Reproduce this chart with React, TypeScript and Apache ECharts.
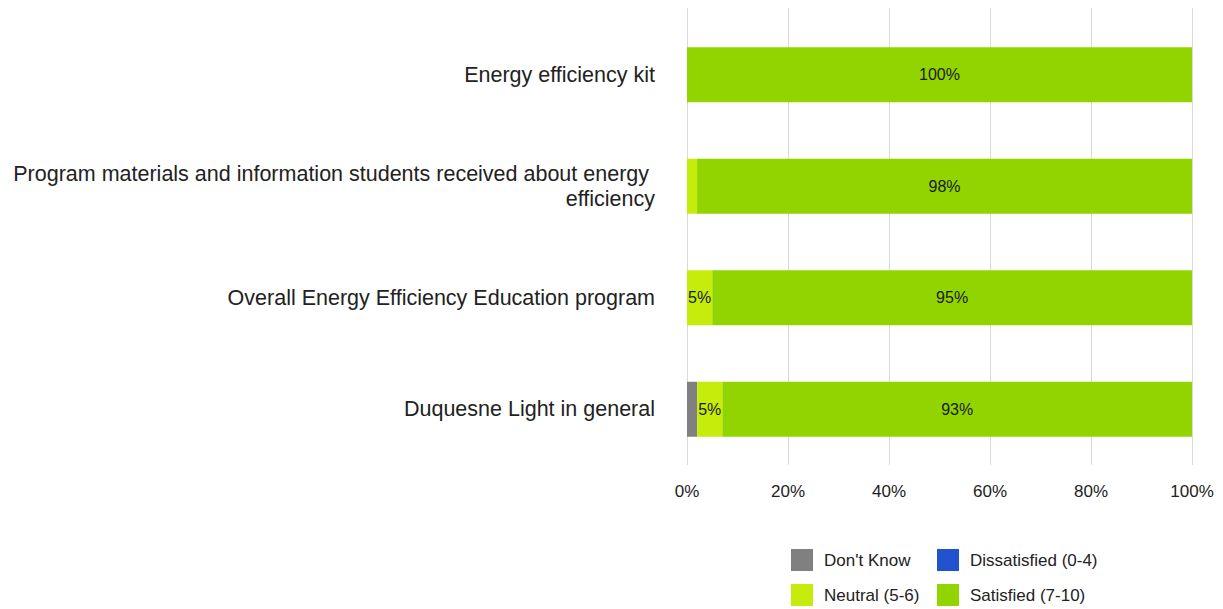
import React, { useEffect, useRef } from "react";
import * as echarts from "echarts";

const categories = [
  "Energy efficiency kit",
  "Program materials and information students received about energy efficiency",
  "Overall Energy Efficiency Education program",
  "Duquesne Light in general",
];
const seriesNames = ["Don't Know", "Dissatisfied (0-4)", "Neutral (5-6)", "Satisfied (7-10)"];
const dontKnow = [0, 0, 0, 2];
const dissatisfied = [0, 0, 0, 0];
const neutral = [0, 2, 5, 5];
const satisfied = [100, 98, 95, 93];
const colors = ["#808080", "#2352d0", "#c6ec0c", "#92d400"];
const xTicks = [0, 20, 40, 60, 80, 100];

const FONT = "'Liberation Sans', Arial, sans-serif";

export default function App() {
  const ref = useRef<HTMLDivElement>(null);
  useEffect(() => {
    const chart = echarts.init(ref.current!, null, { renderer: "svg" });
    const values = [dontKnow, dissatisfied, neutral, satisfied];
    const legendPos = [
      { left: 791, top: 549 },
      { left: 937, top: 549 },
      { left: 791, top: 584 },
      { left: 937, top: 584 },
    ];
    chart.setOption({
      animation: false,
      textStyle: { fontFamily: FONT },
      grid: [
        { left: 687, right: 31, top: 19, bottom: 144, outerBoundsMode: "none", containLabel: false },
        { left: 687, right: 31, top: 8, height: 11, outerBoundsMode: "none", containLabel: false },
      ],
      xAxis: [
        {
          type: "value",
          gridIndex: 0,
          min: xTicks[0],
          max: xTicks[xTicks.length - 1],
          interval: 20,
          axisLine: { show: false },
          axisTick: { show: false },
          splitLine: { show: true, lineStyle: { color: "#d9d9d9", width: 1 } },
          axisLabel: {
            formatter: "{value}%",
            fontSize: 17,
            color: "#222",
            margin: 18,
            fontFamily: FONT,
          },
        },
        {
          type: "value",
          gridIndex: 1,
          min: 0,
          max: 100,
          interval: 20,
          axisLine: { show: false },
          axisTick: { show: false },
          axisLabel: { show: false },
          splitLine: { show: true, lineStyle: { color: "#d9d9d9", width: 1 } },
        },
      ],
      yAxis: [
        {
          type: "category",
          gridIndex: 0,
          data: categories,
          inverse: true,
          axisLine: { show: false },
          axisTick: { show: false },
          axisLabel: {
            fontSize: 21.5,
            color: "#222",
            margin: 32,
            width: 652,
            overflow: "break",
            lineHeight: 25,
            align: "right",
            fontFamily: FONT,
          },
        },
        {
          type: "category",
          gridIndex: 1,
          data: ["x"],
          show: false,
        },
      ],
      legend: seriesNames.map((n, i) => ({
        data: [n],
        left: legendPos[i].left,
        top: legendPos[i].top,
        padding: 0,
        itemWidth: 22,
        itemHeight: 22,
        itemGap: 0,
        icon: "rect",
        selectedMode: false,
        textStyle: { fontSize: 17, color: "#222", fontFamily: FONT, padding: [0, 0, 0, 6] },
      })),
      series: seriesNames.map((n, i) => ({
        name: n,
        type: "bar",
        stack: "total",
        xAxisIndex: 0,
        yAxisIndex: 0,
        barWidth: 55,
        data: values[i],
        itemStyle: { color: colors[i] },
        label: {
          show: true,
          position: "inside",
          fontSize: 16,
          color: "#1a1a1a",
          fontFamily: FONT,
          formatter: (p: any) => (p.value >= 5 ? p.value + "%" : ""),
        },
      })),
    });
    return () => chart.dispose();
  }, []);
  return <div ref={ref} style={{ width: 1223, height: 609, position: "absolute", left: 0, top: 0 }} />;
}
